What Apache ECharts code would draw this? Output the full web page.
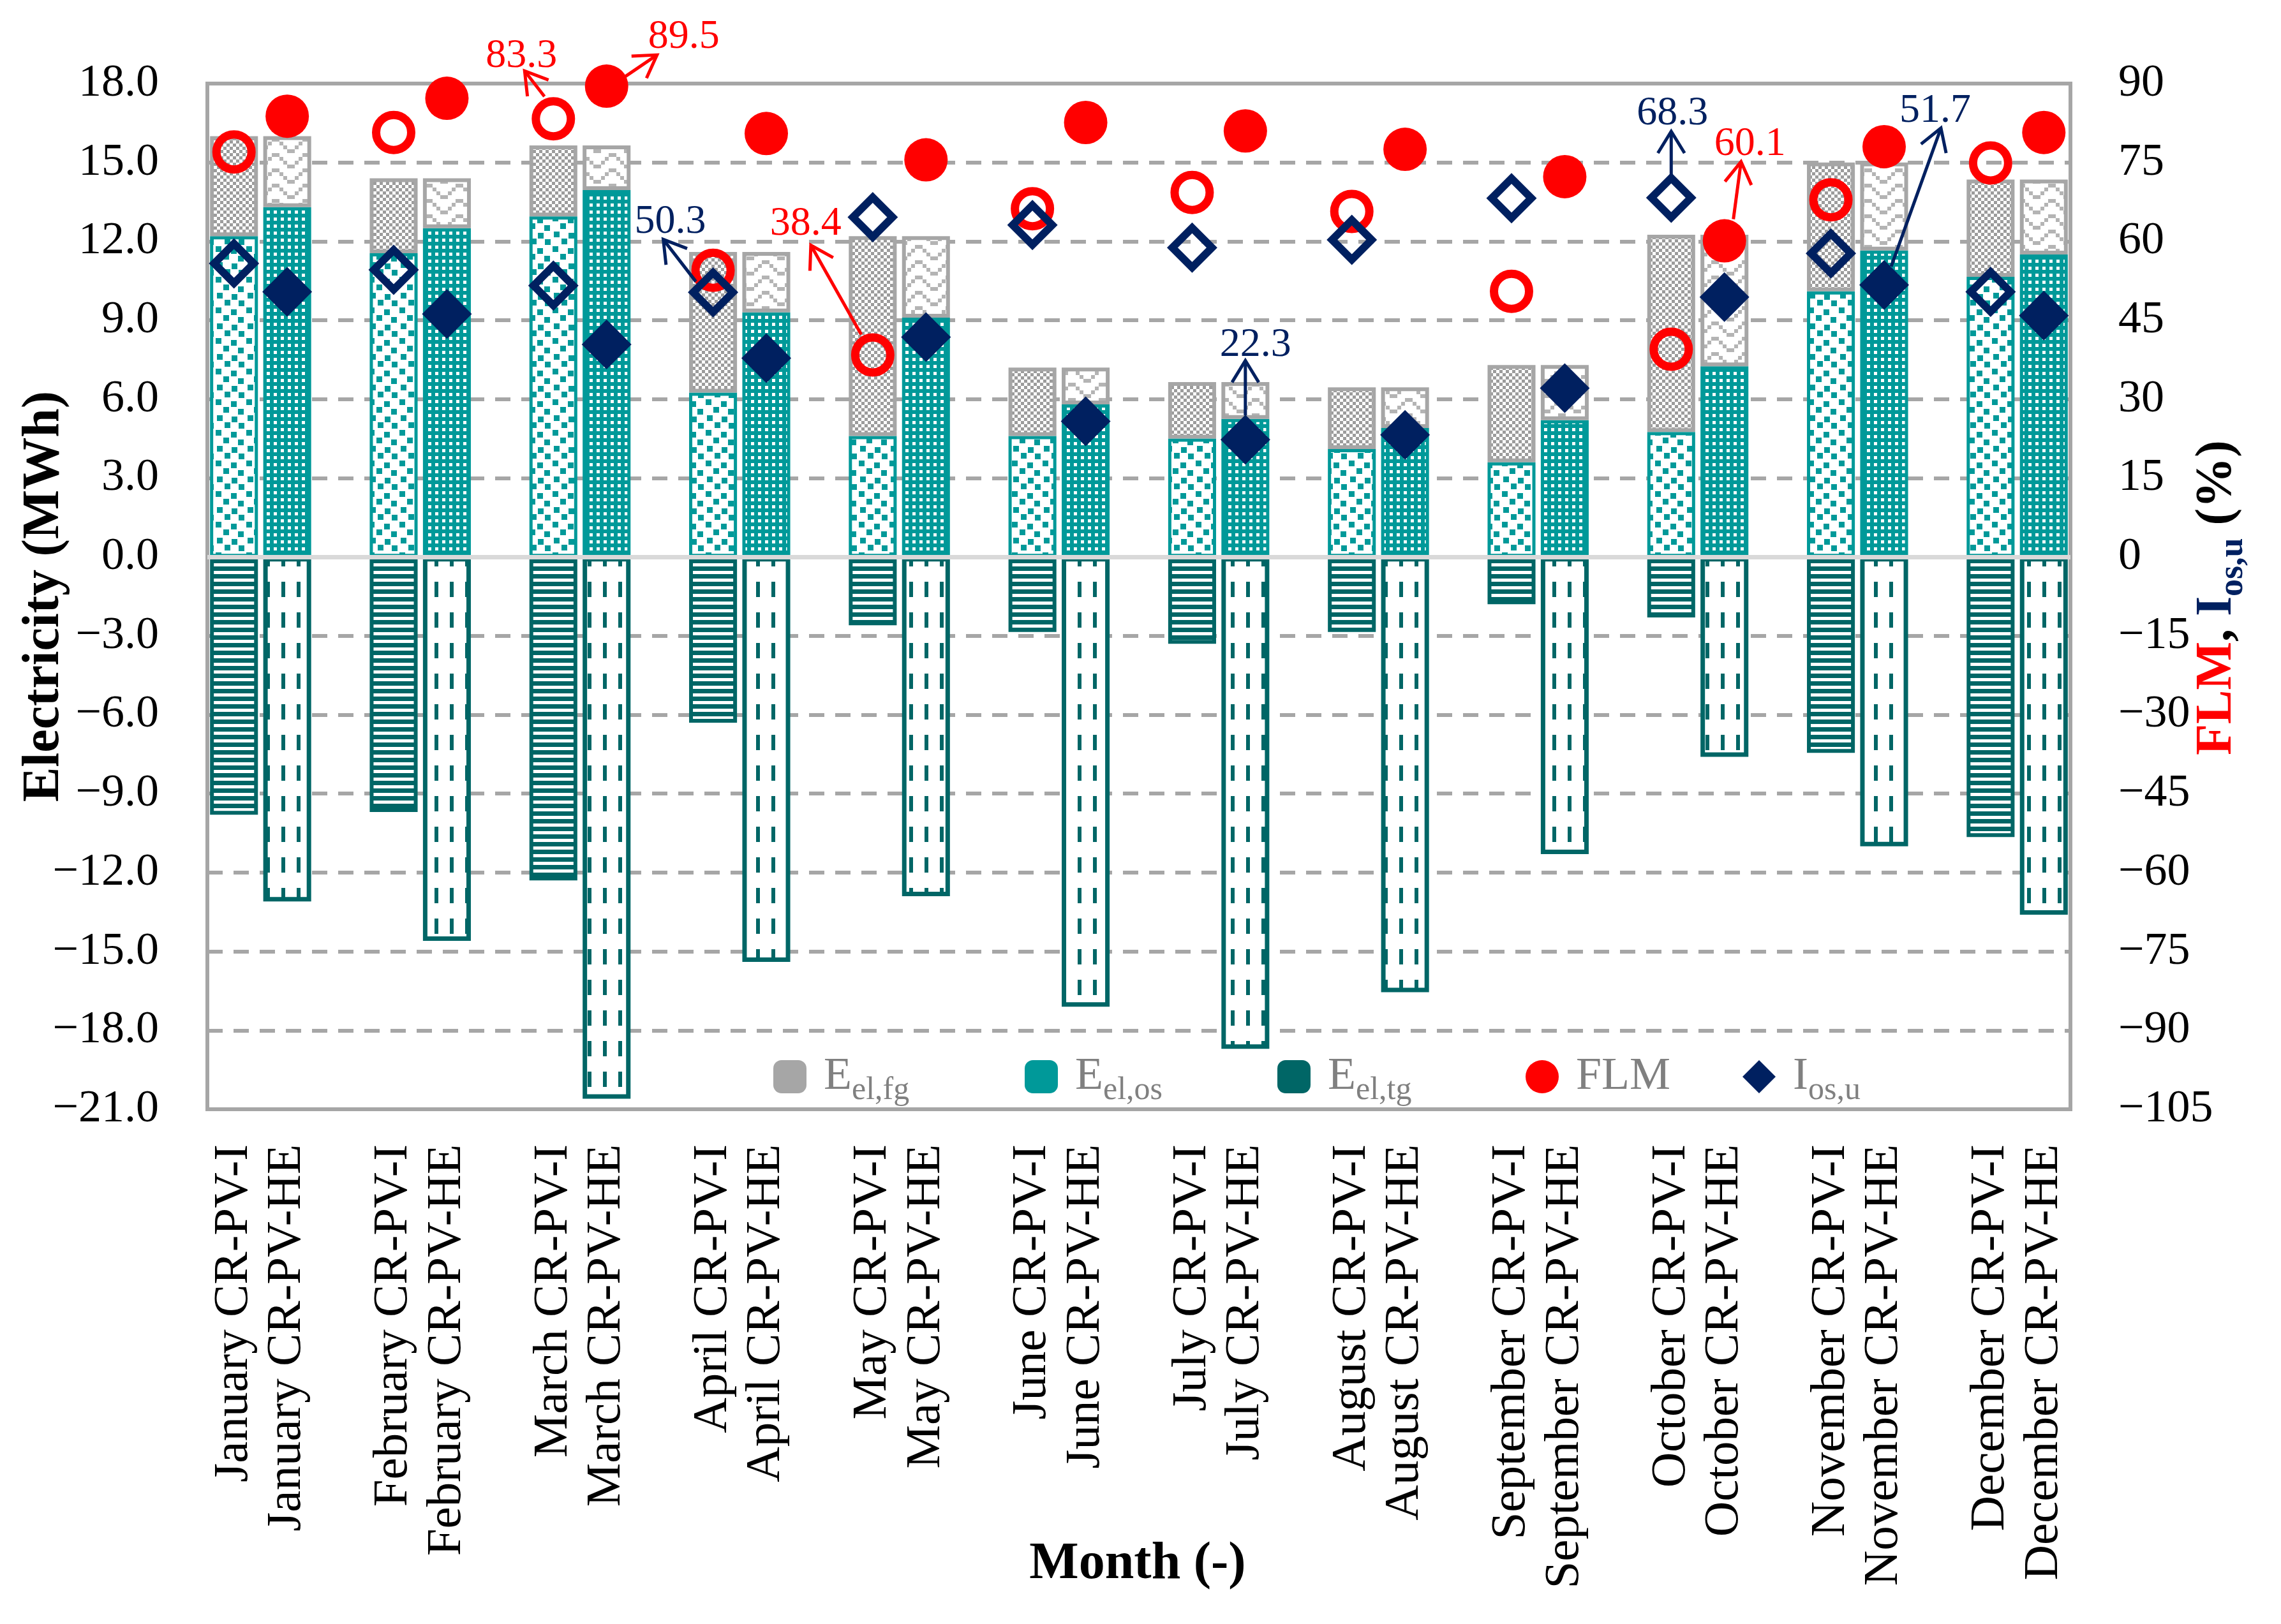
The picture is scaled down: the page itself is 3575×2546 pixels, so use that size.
<!DOCTYPE html>
<html>
<head>
<meta charset="utf-8">
<script src="https://cdn.jsdelivr.net/npm/echarts@6/dist/echarts.min.js"></script>
<style>
html,body{margin:0;padding:0;background:#ffffff;}
#chart{width:3575px;height:2546px;}
</style>
</head>
<body>
<div id="chart"></div>
<script>
// ---------------- DATA ----------------
const months = ['January','February','March','April','May','June','July','August','September','October','November','December'];
const configs = ['CR-PV-I','CR-PV-HE'];
// Electricity (MWh)
const elFgI  = [3.8, 2.85, 2.7, 5.35, 7.6, 2.6, 2.15, 2.35, 3.7, 7.5, 4.9, 3.7];
const elFgHE = [2.7, 1.9, 1.7, 2.3, 3.1, 1.4, 1.4, 1.55, 2.1, 5.0, 3.35, 2.85];
const elOsI  = [12.2, 11.55, 12.95, 6.25, 4.6, 4.6, 4.5, 4.1, 3.6, 4.75, 10.1, 10.65];
const elOsHE = [13.3, 12.5, 13.95, 9.3, 9.1, 5.8, 5.25, 4.9, 5.2, 7.25, 11.65, 11.5];
const elTgI  = [-9.8, -9.7, -12.3, -6.3, -2.6, -2.85, -3.3, -2.85, -1.8, -2.3, -7.45, -10.65];
const elTgHE = [-13.1, -14.6, -20.6, -15.4, -12.9, -17.1, -18.7, -16.55, -11.3, -7.6, -11.0, -13.6];
// Percent (%)
const flmI  = [77.0, 80.7, 83.3, 54.5, 38.4, 66.2, 69.3, 65.7, 50.5, 39.5, 67.9, 74.9];
const flmHE = [83.8, 87.2, 89.5, 80.5, 75.5, 82.6, 81.0, 77.5, 72.3, 60.1, 78.0, 80.7];
const iosI  = [55.8, 54.6, 51.6, 50.3, 64.6, 63.1, 58.8, 60.3, 68.2, 68.3, 57.7, 50.4];
const iosHE = [50.4, 46.2, 40.4, 37.8, 41.8, 25.8, 22.3, 23.2, 32.1, 49.4, 51.7, 45.9];
// Axis ticks
const leftAxis  = {min: -21, max: 18, interval: 3};
const rightAxis = {min: -105, max: 90, interval: 15};
// Highlighted values (series, month index, config index)
const highlights = [
  {s:'FLM', m:2, c:0}, {s:'FLM', m:2, c:1}, {s:'IOS', m:3, c:0}, {s:'FLM', m:4, c:0},
  {s:'IOS', m:6, c:1}, {s:'IOS', m:9, c:0}, {s:'FLM', m:9, c:1}, {s:'IOS', m:10, c:1}
];

// ---------------- STYLE ----------------
const GRAY = '#A6A6A6', TEAL = '#009999', DTEAL = '#006666', RED = '#FF0000', NAVY = '#002060';
const SERIF = '"Liberation Serif", "Times New Roman", serif';
// annotation layout offsets (px relative to marker): tail, head, text
const noteLayout = [
  {tail:[-14,-35], head:[-45,-75], text:[-50,-98]},
  {tail:[29,-15], head:[79,-49], text:[121,-77]},
  {tail:[-27,-17], head:[-78,-83], text:[-67,-110]},
  {tail:[-18,-32], head:[-97,-172], text:[-105,-205]},
  {tail:[0,-38], head:[0,-124], text:[16,-148]},
  {tail:[0,-36], head:[0,-104], text:[2,-132]},
  {tail:[14,-34], head:[26,-124], text:[40,-151]},
  {tail:[11,-29], head:[89,-246], text:[80,-273]}
];

function pattern(w, h, draw) {
  const c = document.createElement('canvas');
  c.width = w; c.height = h;
  const g = c.getContext('2d');
  draw(g, w, h);
  return {image: c, repeat: 'repeat'};
}
const patOsI = pattern(48, 48, (g, w, h) => {
  g.fillStyle = '#fff'; g.fillRect(0, 0, w, h);
  g.fillStyle = TEAL;
  [[2,2],[26,5],[14,14],[37,17],[4,27],[27,29],[16,38],[38,39]].forEach(p => g.fillRect(p[0], p[1], 9, 9));
});
const patOsHE = pattern(11, 11, (g, w, h) => {
  g.fillStyle = TEAL; g.fillRect(0, 0, w, h);
  g.fillStyle = '#fff'; g.fillRect(0, 0, 5, 5);
});
const patFgI = pattern(10, 10, (g, w, h) => {
  g.fillStyle = '#fff'; g.fillRect(0, 0, w, h);
  g.fillStyle = '#9C9C9C'; g.fillRect(0, 0, 5, 5); g.fillRect(5, 5, 5, 5);
});
const patFgHE = pattern(48, 24, (g, w, h) => {
  g.fillStyle = '#fff'; g.fillRect(0, 0, w, h);
  g.fillStyle = '#B4B4B4';
  for (let r = 0; r < 4; r++) { g.fillRect(r*6, r*6, 6, 6); g.fillRect((7-r)*6, r*6, 6, 6); }
});
const patTgI = pattern(12, 12, (g, w, h) => {
  g.fillStyle = DTEAL; g.fillRect(0, 0, w, h);
  g.fillStyle = '#fff'; g.fillRect(0, 7, w, 5);
});
const patTgHE = pattern(24, 48, (g, w, h) => {
  g.fillStyle = '#fff'; g.fillRect(0, 0, w, h);
  g.fillStyle = DTEAL; g.fillRect(9, 0, 6, 24);
});

const barStyles = {
  fg: [{color: patFgI, borderColor: GRAY, borderWidth: 6}, {color: patFgHE, borderColor: GRAY, borderWidth: 6}],
  os: [{color: patOsI, borderColor: TEAL, borderWidth: 5}, {color: patOsHE, borderColor: TEAL, borderWidth: 5}],
  tg: [{color: patTgI, borderColor: DTEAL, borderWidth: 6}, {color: patTgHE, borderColor: DTEAL, borderWidth: 7}]
};
const flmStyles = [
  {symbolSize: 55, itemStyle: {color: 'rgba(0,0,0,0)', borderColor: RED, borderWidth: 13, opacity: 1}},
  {symbolSize: 68, itemStyle: {color: RED, borderWidth: 0, opacity: 1}}
];
const iosStyles = [
  {symbolSize: 62, itemStyle: {color: 'rgba(0,0,0,0)', borderColor: NAVY, borderWidth: 12, opacity: 1}},
  {symbolSize: 78, itemStyle: {color: NAVY, borderWidth: 0, opacity: 1}}
];

// ---------------- SLOTS ----------------
const slots = [];
months.forEach((m, i) => {
  slots.push({m: i, c: 0});
  slots.push({m: i, c: 1});
  if (i < months.length - 1) slots.push(null);
});
const categories = slots.map(s => s ? months[s.m] + ' ' + configs[s.c] : '');
const slotIndex = (m, c) => slots.findIndex(s => s && s.m === m && s.c === c);

function barData(arrI, arrHE, styles) {
  return slots.map(s => s ? {value: (s.c ? arrHE : arrI)[s.m], itemStyle: styles[s.c]} : '-');
}
function pointData(arrI, arrHE, styles) {
  return slots.map(s => s ? Object.assign({value: (s.c ? arrHE : arrI)[s.m]}, styles[s.c]) : '-');
}
const minus = v => (v < 0 ? '\u2212' : '') + Math.abs(v);

const chart = echarts.init(document.getElementById('chart'), null, {renderer: 'canvas'});

const legendRich = {
  m: {fontFamily: SERIF, fontSize: 72, color: '#808080', lineHeight: 72, padding: [0, 0, 0, 22]},
  s: {fontFamily: SERIF, fontSize: 50, color: '#808080', lineHeight: 50, padding: [44, 0, 0, 0]}
};
const legendDefs = [
  {name: 'Eel,fg', left: 1212, text: '{m|E}{s|el,fg}', h: 94},
  {name: 'Eel,os', left: 1606, text: '{m|E}{s|el,os}', h: 94},
  {name: 'Eel,tg', left: 2002, text: '{m|E}{s|el,tg}', h: 94},
  {name: 'FLM', left: 2391, text: '{m|FLM}', h: 72},
  {name: 'Ios,u', left: 2731, text: '{m|I}{s|os,u}', h: 94}
];

const option = {
  animation: false,
  backgroundColor: '#ffffff',
  grid: {left: 325, right: 330, top: 131, bottom: 807, containLabel: false, outerBoundsMode: 'none',
         show: true, borderColor: GRAY, borderWidth: 6, backgroundColor: 'rgba(0,0,0,0)'},
  legend: legendDefs.map(d => ({
    data: [d.name], left: d.left, top: 1688 - d.h / 2, padding: 0,
    itemWidth: 52, itemHeight: 52, selectedMode: false,
    formatter: () => d.text,
    itemStyle: {opacity: 1},
    textStyle: {rich: legendRich, color: '#808080'}
  })),
  xAxis: {
    type: 'category', data: categories, boundaryGap: true,
    axisLine: {show: false, onZero: false}, axisTick: {show: false},
    axisLabel: {interval: 0, rotate: 90, margin: 55, fontFamily: SERIF, fontSize: 77, color: '#000', hideOverlap: false}
  },
  yAxis: [
    {type: 'value', min: leftAxis.min, max: leftAxis.max, interval: leftAxis.interval,
     axisLine: {show: false}, axisTick: {show: false},
     axisLabel: {margin: 76, fontFamily: SERIF, fontSize: 72, color: '#000', formatter: v => (v < 0 ? '\u2212' : '') + Math.abs(v).toFixed(1)},
     splitLine: {show: true, lineStyle: {color: GRAY, width: 6, type: [24, 17]}}},
    {type: 'value', min: rightAxis.min, max: rightAxis.max, interval: rightAxis.interval,
     axisLine: {show: false}, axisTick: {show: false},
     axisLabel: {margin: 75, fontFamily: SERIF, fontSize: 72, color: '#000', formatter: minus},
     splitLine: {show: false}}
  ],
  series: [
    {name: 'Eel,os', type: 'bar', stack: 'e', barCategoryGap: '10%', itemStyle: {color: TEAL},
     data: barData(elOsI, elOsHE, barStyles.os),
     markLine: {silent: true, symbol: 'none', label: {show: false}, data: [{yAxis: 0}],
                lineStyle: {color: '#D9D9D9', width: 7, type: 'solid'}, animation: false}},
    {name: 'Eel,fg', type: 'bar', stack: 'e', barCategoryGap: '10%', itemStyle: {color: GRAY},
     data: barData(elFgI, elFgHE, barStyles.fg)},
    {name: 'Eel,tg', type: 'bar', stack: 'e', barCategoryGap: '10%', itemStyle: {color: DTEAL},
     data: barData(elTgI, elTgHE, barStyles.tg)},
    {name: 'FLM', type: 'scatter', yAxisIndex: 1, symbol: 'circle', itemStyle: {color: RED, opacity: 1}, z: 4,
     data: pointData(flmI, flmHE, flmStyles)},
    {name: 'Ios,u', type: 'scatter', yAxisIndex: 1, symbol: 'diamond', itemStyle: {color: NAVY, opacity: 1}, z: 5,
     data: pointData(iosI, iosHE, iosStyles)}
  ]
};
chart.setOption(option);

// ---------------- TITLES & ANNOTATIONS ----------------
const graphics = [
  {type: 'text', x: 70, y: 935, rotation: Math.PI / 2, z: 30,
   style: {text: 'Electricity (MWh)', font: 'bold 82px ' + SERIF, fill: '#000', align: 'center', verticalAlign: 'middle'}},
  {type: 'text', x: 3475, y: 937, rotation: Math.PI / 2, z: 30,
   style: {text: '{r|FLM}{k|, }{n|I}{ns|os,u}{k| (%)}', align: 'center', verticalAlign: 'middle',
     rich: {
       r: {fontFamily: SERIF, fontWeight: 'bold', fontSize: 80, fill: RED, lineHeight: 80},
       k: {fontFamily: SERIF, fontWeight: 'bold', fontSize: 80, fill: '#000', lineHeight: 80},
       n: {fontFamily: SERIF, fontWeight: 'bold', fontSize: 80, fill: NAVY, lineHeight: 80},
       ns: {fontFamily: SERIF, fontWeight: 'bold', fontSize: 54, fill: NAVY, lineHeight: 54, padding: [50, 0, 0, 0]}
     }}},
  {type: 'text', x: 1783, y: 2453, z: 30,
   style: {text: 'Month (-)', font: 'bold 82px ' + SERIF, fill: '#000', align: 'center', verticalAlign: 'middle'}}
];

highlights.forEach((h, i) => {
  const L = noteLayout[i];
  const isF = h.s === 'FLM';
  const arr = isF ? (h.c ? flmHE : flmI) : (h.c ? iosHE : iosI);
  const v = arr[h.m];
  const p = chart.convertToPixel({seriesIndex: isF ? 3 : 4}, [slotIndex(h.m, h.c), v]);
  const color = isF ? RED : NAVY;
  const t = [p[0] + L.tail[0], p[1] + L.tail[1]];
  const hd = [p[0] + L.head[0], p[1] + L.head[1]];
  const ang = Math.atan2(t[1] - hd[1], t[0] - hd[0]);
  const AL = 40, AA = 0.55;
  const a1 = [hd[0] + AL * Math.cos(ang + AA), hd[1] + AL * Math.sin(ang + AA)];
  const a2 = [hd[0] + AL * Math.cos(ang - AA), hd[1] + AL * Math.sin(ang - AA)];
  graphics.push({type: 'line', z: 30, shape: {x1: t[0], y1: t[1], x2: hd[0], y2: hd[1]}, style: {stroke: color, lineWidth: 5}});
  graphics.push({type: 'polyline', z: 30, shape: {points: [a1, hd, a2]}, style: {stroke: color, lineWidth: 5, fill: null}});
  graphics.push({type: 'text', z: 30, x: p[0] + L.text[0], y: p[1] + L.text[1],
    style: {text: v.toFixed(1), font: '64px ' + SERIF, fill: color, align: 'center', verticalAlign: 'middle'}});
});
chart.setOption({graphic: graphics});
</script>
</body>
</html>
